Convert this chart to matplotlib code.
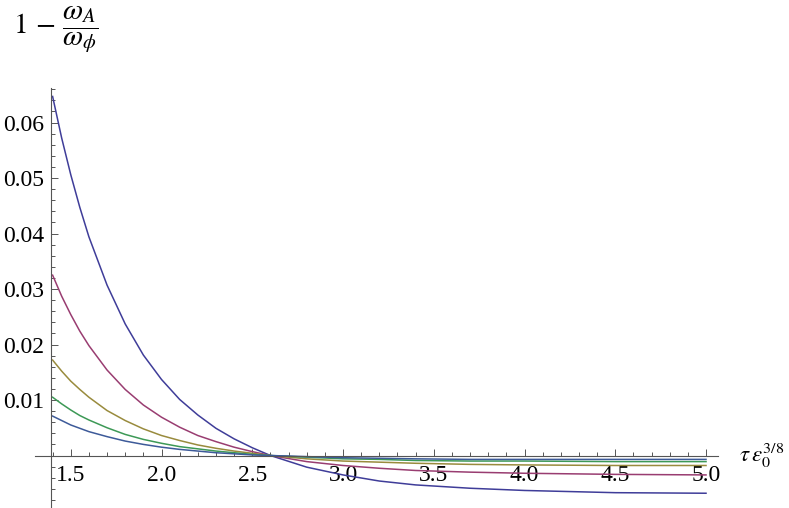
import matplotlib
matplotlib.use("Agg")
import matplotlib.pyplot as plt
from matplotlib.ticker import MultipleLocator, FixedLocator, FuncFormatter

plt.rcParams["font.family"] = ["Liberation Serif", "DejaVu Serif"]
plt.rcParams["mathtext.fontset"] = "stix"

tau = [1.4, 1.45, 1.5, 1.55, 1.6, 1.7, 1.8, 1.9, 2.0, 2.1, 2.2, 2.3, 2.4,
       2.5, 2.6, 2.8, 3.0, 3.2, 3.4, 3.7, 4.0, 4.5, 5.0]
curve_1 = [0.0647, 0.0572, 0.0506, 0.0447, 0.0394, 0.0307, 0.0237, 0.0181,
           0.0137, 0.0101, 0.0073, 0.0049, 0.0030, 0.0014, 0.0000, -0.0021,
           -0.0035, -0.0046, -0.0053, -0.0059, -0.0063, -0.0067, -0.0068]
curve_2 = [0.0325, 0.0287, 0.0254, 0.0224, 0.0198, 0.0154, 0.0119, 0.0091,
           0.0069, 0.0051, 0.0036, 0.0025, 0.0015, 0.0007, 0.0000, -0.0011,
           -0.0018, -0.0023, -0.0027, -0.0030, -0.0032, -0.0034, -0.0035]
curve_3 = [0.0172, 0.0152, 0.0134, 0.0119, 0.0105, 0.0081, 0.0063, 0.0048,
           0.0036, 0.0027, 0.0019, 0.0013, 0.0008, 0.0004, 0.0000, -0.0006,
           -0.0010, -0.0012, -0.0014, -0.0016, -0.0017, -0.0018, -0.0018]
curve_4 = [0.0105, 0.0093, 0.0082, 0.0072, 0.0064, 0.0050, 0.0038, 0.0029,
           0.0022, 0.0016, 0.0012, 0.0008, 0.0005, 0.0002, 0.0000, -0.0003,
           -0.0006, -0.0007, -0.0009, -0.0010, -0.0010, -0.0011, -0.0011]
curve_5 = [0.0071, 0.0063, 0.0055, 0.0049, 0.0043, 0.0034, 0.0026, 0.0020,
           0.0015, 0.0011, 0.0008, 0.0005, 0.0003, 0.0001, 0.0000, -0.0002,
           -0.0004, -0.0005, -0.0006, -0.0007, -0.0007, -0.0007, -0.0007]
curves = [curve_1, curve_2, curve_3, curve_4, curve_5]

# Mathematica default palette
colors = [(0.2472, 0.24, 0.6), (0.6, 0.24, 0.4429), (0.6, 0.547, 0.24),
          (0.24, 0.6, 0.337), (0.24, 0.353, 0.6)]

fig = plt.figure(figsize=(7.89, 5.08), dpi=100)
ax = fig.add_axes([35 / 789, 0.0, (718 - 35) / 789, 1 - 88 / 508])

for y, c in zip(curves, colors):
    ax.plot(tau, y, color=c, lw=1.1, solid_joinstyle="round")

ax.set_xlim(1.303, 5.066)
ax.set_ylim(-0.00946, 0.06622)

axis_col = "#555555"
for s in ["top", "right"]:
    ax.spines[s].set_visible(False)
ax.spines["left"].set_position(("data", 1.39))
ax.spines["bottom"].set_position(("data", 0.0))
for s in ["left", "bottom"]:
    ax.spines[s].set_color(axis_col)
    ax.spines[s].set_linewidth(0.8)

ax.xaxis.set_major_locator(FixedLocator([1.5, 2.0, 2.5, 3.0, 3.5, 4.0, 4.5, 5.0]))
ax.xaxis.set_minor_locator(MultipleLocator(0.1))
ax.xaxis.set_major_formatter(FuncFormatter(lambda v, p: f"{v:.1f}"))
ax.yaxis.set_major_locator(FixedLocator([0.01, 0.02, 0.03, 0.04, 0.05, 0.06]))
ax.yaxis.set_minor_locator(MultipleLocator(0.002))
ax.yaxis.set_major_formatter(FuncFormatter(lambda v, p: f"{v:.2f}"))

ax.tick_params(which="both", direction="in", color=axis_col, width=0.7,
               labelsize=17)
ax.tick_params(which="major", length=5)
ax.tick_params(which="minor", length=3)
ax.tick_params(axis="x", pad=7)
ax.tick_params(axis="y", pad=5)

fig.text(13 / 789, 1 - 30 / 508, r"$1\,-\,\dfrac{\omega_A}{\omega_\phi}$",
         fontsize=21, va="center", ha="left")
fig.text(739 / 789, 1 - 455 / 508, r"$\tau\,\epsilon_0^{3/8}$",
         fontsize=16.5, va="center", ha="left")

fig.savefig("out.png", dpi=100, facecolor="white")
